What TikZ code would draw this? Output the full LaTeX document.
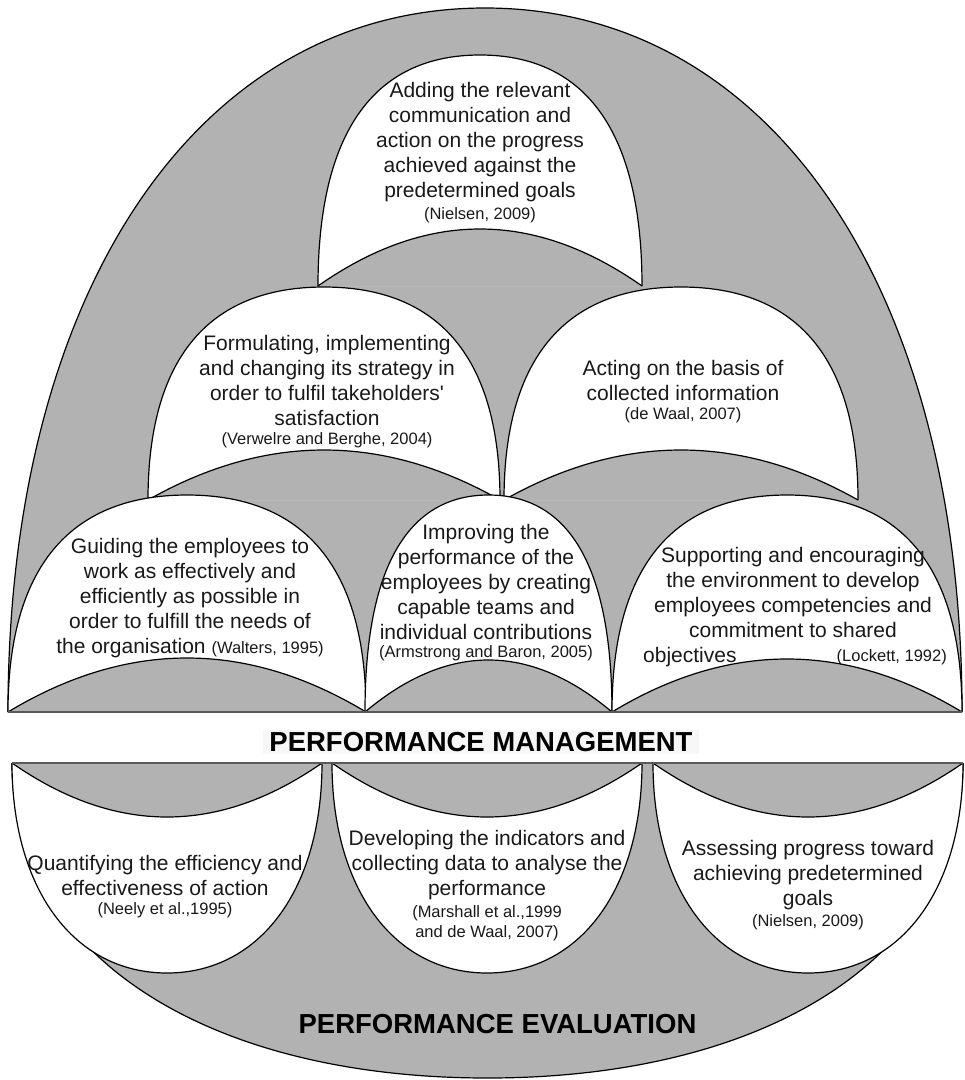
\documentclass[tikz,border=0pt]{standalone}
\usepackage{fontspec}
\setmainfont{Liberation Sans}
\definecolor{archgray}{gray}{0.7}
\definecolor{inkgray}{gray}{0.1}
\newcommand{\citesize}{\fontsize{16.5}{20}\selectfont}

\begin{document}
\begin{tikzpicture}[x=1pt,y=-1pt,
  archline/.style={draw=black, line width=1.2pt},
  floorline/.style={draw=black!65, line width=1.2pt},
  bodytext/.style={font=\fontsize{21}{25}\selectfont, text=inkgray, align=center, inner sep=0pt},
  citetext/.style={font=\citesize, text=inkgray, align=center, inner sep=0pt},
  headtext/.style={font=\fontsize{27.5}{30}\selectfont\bfseries, text=black, inner xsep=6pt, inner ysep=2pt}]
  %% Fullness of the curved sides (0.55 would give an ellipse).
  \def\domebend{0.6}
  \def\archbend{0.66}

  %% An arch: centre x, base y, half width, height (negative for a bowl), fullness, fill.
  \def\archshape#1#2#3#4#5#6{%
    \fill[#6] ({#1-#3},{#2}) .. controls ({#1-#3},{#2-#5*(#4)}) and ({#1-#5*#3},{#2-(#4)}) .. ({#1},{#2-(#4)})
      .. controls ({#1+#5*#3},{#2-(#4)}) and ({#1+#3},{#2-#5*(#4)}) .. ({#1+#3},{#2}) -- cycle;
    \draw[archline] ({#1-#3},{#2}) .. controls ({#1-#3},{#2-#5*(#4)}) and ({#1-#5*#3},{#2-(#4)}) .. ({#1},{#2-(#4)})
      .. controls ({#1+#5*#3},{#2-(#4)}) and ({#1+#3},{#2-#5*(#4)}) .. ({#1+#3},{#2});}

  %% A shallow gray cap sitting on the base of an arch: centre x, base y, half width, height.
  \def\capshape#1#2#3#4{%
    \fill[archgray] ({#1-#3},{#2}) .. controls ({#1-#3/3},{#2-4*(#4)/3}) and ({#1+#3/3},{#2-4*(#4)/3}) .. ({#1+#3},{#2}) -- cycle;
    \draw[archline] ({#1-#3},{#2}) .. controls ({#1-#3/3},{#2-4*(#4)/3}) and ({#1+#3/3},{#2-4*(#4)/3}) .. ({#1+#3},{#2});}

  \useasboundingbox (0,0) rectangle (965,1080);

  %% The big dome of performance management.
  \archshape{485}{712}{477}{704}{\domebend}{archgray}

  %% Top arch.
  \archshape{480}{286}{162}{231}{\archbend}{white}
  \capshape{480}{286}{162}{57}

  %% Middle row.
  \foreach \cx/\rx in {324/176, 681/177} {
    \archshape{\cx}{500}{\rx}{213}{\archbend}{white}
    \capshape{\cx}{500}{\rx}{50}
  }

  %% Bottom row.
  \foreach \cx/\rx/\ch in {187/179/54, 488.5/123.5/52, 787/175/53} {
    \archshape{\cx}{712}{\rx}{217}{\archbend}{white}
    \capshape{\cx}{712}{\rx}{\ch}
  }
  \draw[floorline] (8,712) -- (962,712);

  %% The bowl of performance evaluation.
  \archshape{487.5}{763}{475.5}{-315}{\domebend}{archgray}
  \foreach \cx in {167, 487, 808} {
    \archshape{\cx}{763}{155}{-210}{\domebend}{white}
    \capshape{\cx}{763}{155}{-54}
  }
  \draw[floorline] (12,763) -- (963,763);

  %% Texts of the dome.
  \node[bodytext] (addText) at (480,142) {Adding the relevant\\communication and\\action on the progress\\achieved against the\\predetermined goals};
  \node[citetext] (addCite) at (480,215) {(Nielsen, 2009)};

  \node[bodytext] (formText) at (327,380.5) {Formulating, implementing\\and changing its strategy in\\order to fulfil takeholders\textquotesingle\\satisfaction};
  \node[citetext] (formCite) at (327,440) {(Verwelre and Berghe, 2004)};

  \node[bodytext] (actText) at (683,380.5) {Acting on the basis of\\collected information};
  \node[citetext] (actCite) at (683,415) {(de Waal, 2007)};

  \node[bodytext] (guideText) at (190,598) {Guiding the employees to\\work as effectively and\\efficiently as possible in\\order to fulfill the needs of\\the organisation {\citesize (Walters, 1995)}};

  \node[bodytext] (improveText) at (486,582) {Improving the\\performance of the\\employees by creating\\capable teams and\\individual contributions};
  \node[citetext] (improveCite) at (486,653) {(Armstrong and Baron, 2005)};

  \node[bodytext] (supportText) at (793,592.5) {Supporting and encouraging\\the environment to develop\\employees competencies and\\commitment to shared};
  \node[bodytext, anchor=west] (supportEnd) at (643,657) {objectives};
  \node[citetext, anchor=east] (supportCite) at (947,657) {(Lockett, 1992)};

  %% Labels and texts of the bowl.
  \node[headtext, fill=black!3] (pmLabel) at (481,742) {PERFORMANCE MANAGEMENT};

  \node[bodytext] (quantText) at (165,875.5) {Quantifying the efficiency and\\effectiveness of action};
  \node[citetext] (quantCite) at (165,910) {(Neely et al.,1995)};

  \node[bodytext] (devText) at (487,865) {Developing the indicators and\\collecting data to analyse the\\performance};
  \node[citetext] (devCite) at (487,923) {(Marshall et al.,1999\\ and de Waal, 2007)};

  \node[bodytext] (assessText) at (808,875) {Assessing progress toward\\achieving predetermined\\goals};
  \node[citetext] (assessCite) at (808,922) {(Nielsen, 2009)};

  \node[headtext] (peLabel) at (497.5,1024) {PERFORMANCE EVALUATION};
\end{tikzpicture}
\end{document}
